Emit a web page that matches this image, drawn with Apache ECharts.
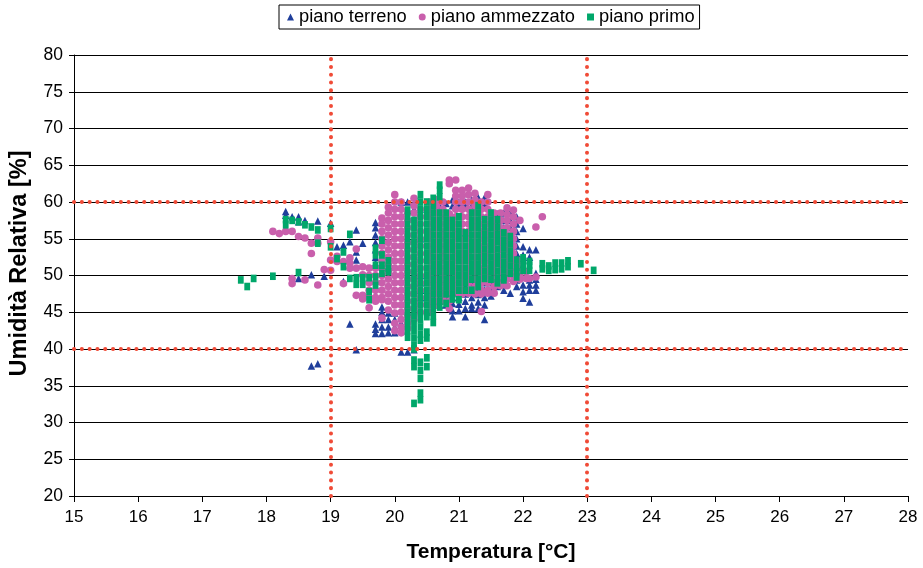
<!DOCTYPE html>
<html>
<head>
<meta charset="utf-8">
<script src="https://cdn.jsdelivr.net/npm/echarts@6/dist/echarts.min.js"></script>
<style>
html,body{margin:0;padding:0;background:#fff;}
#chart{width:923px;height:568px;}
</style>
</head>
<body>
<div id="chart"></div>
<script>
// Series names
const seriesNames = ['piano terreno', 'piano ammezzato', 'piano primo'];

// Tick labels
const xTicks = [15,16,17,18,19,20,21,22,23,24,25,26,27,28];
const yTicks = [20,25,30,35,40,45,50,55,60,65,70,75,80];

// Comfort limits (red dotted lines)
const tempLimits = [19, 23];
const rhLimits = [40, 60];

// piano terreno: [temperature, [relative humidity readings]]
const terrenoCols = [
  [18.3,[58.7,58.2]],
  [18.4,[58.0]],
  [18.5,[58.0,57.3,49.6]],
  [18.6,[57.5]],
  [18.7,[50.1,37.7]],
  [18.8,[57.4,38.0]],
  [18.9,[49.9]],
  [19.0,[57.1]],
  [19.1,[53.9]],
  [19.2,[54.1,49.2]],
  [19.3,[54.6,43.4]],
  [19.4,[56.2,53.2,52.1,39.9]],
  [19.5,[54.4]],
  [19.7,[57.2,56.5,55.5,54.5,53.5,52.5,51.7,47.3,43.4,42.7,42.1]],
  [19.8,[45.7,45.0,44.0,43.0,42.1]],
  [19.9,[44.9,44.0,43.0,42.2]],
  [20.0,[44.9,44.0,43.0,42.2]],
  [20.1,[60.0,43.5,42.5,39.6]],
  [20.2,[60.0,52.0,51.0,50.0,49.0,48.0,47.0,39.6]],
  [20.3,[59.0,51.0,50.0,49.0,48.0,39.9]],
  [20.4,[58.5,55.0,50.0,49.0,48.0,47.0]],
  [20.5,[59.0,48.0,47.0]],
  [20.6,[59.0,48.0,47.0]],
  [20.7,[59.5,48.0,47.0,46.0]],
  [20.8,[59.8,49.0,48.0,47.0,46.0]],
  [20.9,[60.3,59.5,49.0,48.0,47.0,46.2,45.2,44.4]],
  [21.0,[60.0,59.5,49.0,48.0,47.0,46.1,45.2]],
  [21.1,[60.0,59.3,49.4,48.5,47.5,46.5,45.5,44.4]],
  [21.2,[60.3,59.5,49.0,48.0,47.0,46.0,45.5]],
  [21.3,[60.6,59.5,49.4,48.4,47.4,46.4,45.5]],
  [21.4,[60.6,59.8,49.0,48.0,47.0,46.0,44.0]],
  [21.5,[58.5,57.5,49.0,48.0,47.2]],
  [21.6,[58.4,57.5,56.5,49.5,48.5]],
  [21.7,[58.5,57.5,56.5,55.5,49.0,48.0]],
  [21.8,[58.5,57.5,56.5,55.5,54.5,53.5,47.6]],
  [21.9,[58.0,57.0,56.0,55.0,54.0,53.0,52.0,51.2,49.4,48.5]],
  [22.0,[56.4,53.9,52.8,52.1,48.7,47.8,46.9]],
  [22.1,[53.5,52.5,49.4,48.7,48.0,46.4]],
  [22.2,[53.5,50.3,49.5,48.7,48.0]]
];

// piano ammezzato
const ammezzatoCols = [
  [18.1,[56.0]],
  [18.2,[55.7]],
  [18.3,[56.0]],
  [18.4,[56.0,49.6,48.9]],
  [18.5,[55.3]],
  [18.6,[55.1,49.4]],
  [18.7,[54.4,53.0]],
  [18.8,[55.1,54.4,48.7]],
  [18.9,[50.8]],
  [19.0,[54.6,52.1,50.7]],
  [19.1,[52.6,51.9]],
  [19.2,[51.9,48.9]],
  [19.3,[52.4,51.7,51.0]],
  [19.4,[53.6,51.0,47.3]],
  [19.5,[51.2,50.1,47.3,46.8]],
  [19.6,[51.0,50.0,49.0,48.0,47.0,45.6]],
  [19.7,[51.0,50.0,49.0,48.0,47.0,46.5]],
  [19.8,[57.8,57,56,55,54,53,52,51,50,49,48,47,46.7,44.2]],
  [19.9,[59.3,58.5,57.5,56.5,55.5,54.5,53.5,52.5,51.5,50.5,49.5,48.5,47.5,46.5,45.3]],
  [20.0,[61,60,59,58,57,56,55,54,53,52,51,50,49,48,47,46,44.9,43.5,42.5]],
  [20.1,[60,59,58,57,56,55,54,53,52,51,50,49,48,47,46,45,44,43,42.2]],
  [20.2,[58.5,57.5,56.5,55.5,54.5,53.5,52.5,51.5,50.5,49.5,48.5,47.5,46.5,45.5,44.5,43.5,42.8]],
  [20.3,[60.5,59.5,58.5,57.5,56.5,55.5,54.5,53.5,52.5,51.5,50.5,49.5,48.5,47.5,46.5,45.5,44.5,44.0]],
  [20.4,[59,58,57,56,55,54,53,52,51,50,49,48,47,46,45]],
  [20.55,[60,59,58,57,56,55,54,53,52,51,50,49,48,47,46,45]],
  [20.65,[60.3,59.5,58.5,57.5,56.5,55.5,54.5,53.5,52.5,51.5,50.5,49.5,48.5,47.5,46.5,46.0]],
  [20.75,[60,59,58,57,56,55,54,53,52,51,50,49,48,47,46.5]],
  [20.85,[63,62.5,58.4,57.5,56.5,55.5,54.5,53.5,52.5,51.5,50.5,49.5,48.5,47.5,46.5,45.5]],
  [20.95,[63,61.6,60.8,60,59,58,57,56,55,54,53,52,51,50,49,48,47.6]],
  [21.05,[61.6,60.8,60,59,58,57,56,55,54,53,52,51,50,49,48,47.5]],
  [21.15,[61.9,61,60,59,58,57,56,55,54,53,52,51,50,49,48,47.6]],
  [21.25,[61.2,60.3,59.5,58.5,57.5,56.5,55.5,54.5,53.5,52.5,51.5,50.5,49.5,48.5,47.5]],
  [21.35,[60,59,58,57,56,55,54,53,52,51,50,49,48,47.5,45.1]],
  [21.45,[61,60,59,58,57,56,55,54,53,52,51,50,49,48,47.6]],
  [21.55,[58.5,57.5,56.5,55.5,54.5,53.5,52.5,51.5,50.5,49.5,48.5,47.6]],
  [21.65,[58.5,57.5,56.5,55.5,54.5,53.5,52.5,51.5,50.5,49.5,48.6]],
  [21.75,[59.2,58.3,57.5,56.5,55.5,54.5,53.5,52.5,51.5,50.5,49.5,48.6]],
  [21.85,[58.9,58,57,56,55,54,53,52,51,50,49.2]],
  [21.95,[57.5,52,51,50,49.5]],
  [22.05,[50.5,49.6]],
  [22.1,[49.6]],
  [22.2,[56.6,49.8]],
  [22.3,[58.0]]
];

// piano primo
const primoCols = [
  [17.6,[49.4]],
  [17.7,[48.5]],
  [17.8,[49.6]],
  [18.1,[49.9]],
  [18.3,[57.6,56.9]],
  [18.4,[57.5]],
  [18.5,[57.3,50.4]],
  [18.6,[56.9]],
  [18.7,[56.6]],
  [18.8,[56.2,54.4]],
  [19.0,[56.4,53.9]],
  [19.1,[52.3]],
  [19.2,[53.2,51.2]],
  [19.3,[55.6,49.6]],
  [19.4,[49.7,48.8]],
  [19.5,[49.7,48.8]],
  [19.6,[49.7,47.8,46.7]],
  [19.7,[53.7,52.8,51.4,49.8,48.7]],
  [19.8,[54.8,52.8,51.4,50.3]],
  [19.9,[52.0,51.0,50.5]],
  [20.2,[58.9,58,57,56,55,54,53,52,51,50,49,48,47,46,45,44.4,43.5,42.5,41.6]],
  [20.3,[57.5,56.5,55.5,54.5,53.5,52.5,51.5,50.5,49.5,48.5,47.5,46.5,45.5,44.5,43.5,42.5,41.5,40.5,40.0,38.5,37.6,32.6]],
  [20.4,[61,60,59,58,57,56,55,54,53,52,51,50,49,48,47,46,45,44,43,42,41.2,38.2,37.1,36.0,34.0,33.1]],
  [20.5,[60,59,58,57,56,55,54,53,52,51,50,49,48,47,46,45,44.4,42.3,41.5,38.8,37.6]],
  [20.6,[60.5,59.5,58.5,57.5,56.5,55.5,54.5,53.5,52.5,51.5,50.5,49.5,48.5,47.5,46.5,45.5,44.5,43.6]],
  [20.7,[62.3,61.6,60.7,58.5,57.5,56.5,55.5,54.5,53.5,52.5,51.5,50.5,49.5,48.5,47.5,46.5,45.7]],
  [20.8,[58.5,57.5,56.5,55.5,54.5,53.5,52.5,51.5,50.5,49.5,48.5,47.5,46.2]],
  [20.9,[57.5,56.5,55.5,54.5,53.5,52.5,51.5,50.5,49.5,48.5,47.5,46.8]],
  [21.0,[58,57,56,55,54,53,52,51,50,49,48,46.7]],
  [21.1,[55.8,55,54,53,52,51,50,49,48]],
  [21.2,[58.5,57.5,56.5,55.5,54.5,53.5,52.5,51.5,50.5,49.5,48.0]],
  [21.3,[59.5,58.5,57.5,56.5,55.5,54.5,53.5,52.5,51.5,50.5,49.5,48.5]],
  [21.4,[57.6,56.6,55.6,54.6,53.6,52.6,51.6,50.6,49.6]],
  [21.5,[58.5,57.5,56.5,55.5,54.5,53.5,52.5,51.5,50.5,49.5]],
  [21.6,[57.6,56.6,55.6,54.6,53.6,52.6,51.6,50.6,49.6,49.0]],
  [21.7,[55.8,54.8,53.8,52.8,51.8,50.8,49.8,49.4]],
  [21.8,[55.3,54.3,53.3,52.3,51.3,50.3]],
  [21.9,[52.1,51.1,50.5,49.8]],
  [22.0,[52.4,51.5,50.7]],
  [22.1,[51.9,51.4,50.7]],
  [22.3,[51.6,50.9]],
  [22.4,[51.3,50.7]],
  [22.5,[51.7,50.8]],
  [22.6,[51.7,50.9]],
  [22.7,[52.0,51.2]],
  [22.9,[51.6]],
  [23.1,[50.7]]
];

function toPoints(cols){
  const out = [];
  cols.forEach(([t, hs]) => hs.forEach(h => out.push([t, h])));
  return out;
}

const colors = ['#1F3E9B', '#C95FAC', '#00A76A'];
const red = '#F04B37';
const FONT = 'Liberation Sans, Arial, sans-serif';

const chart = echarts.init(document.getElementById('chart'), null, {renderer:'canvas'});

const option = {
  animation: false,
  backgroundColor: '#fff',
  textStyle: {fontFamily: FONT, color: '#000'},
  legend: {
    data: [
      {name: seriesNames[0], icon: 'triangle'},
      {name: seriesNames[1], icon: 'circle'},
      {name: seriesNames[2], icon: 'rect'}
    ],
    left: 279, top: 5,
    orient: 'horizontal',
    borderColor: '#000', borderWidth: 1,
    padding: [3, 5, 3, 8],
    itemWidth: 7, itemHeight: 7, itemGap: 12,
    textStyle: {fontFamily: FONT, fontSize: 18.3, color: '#000', padding: [0,0,0,0]}
  },
  grid: {left: 73, right: 15, top: 55, bottom: 72, containLabel: false},
  xAxis: {
    type: 'value', min: 15, max: 28, interval: 1,
    name: 'Temperatura [°C]', nameLocation: 'middle', nameGap: 46,
    nameTextStyle: {fontFamily: FONT, fontSize: 21, fontWeight: 'bold', color: '#000'},
    axisLine: {show: true, onZero: false, lineStyle: {color: '#000', width: 1}},
    axisTick: {show: true, inside: false, length: 6, lineStyle: {color: '#000'}},
    axisLabel: {fontFamily: FONT, fontSize: 17, color: '#000', margin: 13},
    splitLine: {show: false}
  },
  yAxis: {
    type: 'value', min: 20, max: 80, interval: 5,
    name: 'Umidità Relativa [%]', nameLocation: 'middle', nameGap: 42,
    nameTextStyle: {fontFamily: FONT, fontSize: 23.5, fontWeight: 'bold', color: '#000', padding: [0, 0, 0, 24]},
    axisLine: {show: true, onZero: false, lineStyle: {color: '#000', width: 1}},
    axisTick: {show: true, inside: false, length: 5, lineStyle: {color: '#000'}},
    axisLabel: {fontFamily: FONT, fontSize: 17.5, color: '#000', margin: 11},
    splitLine: {show: true, lineStyle: {color: '#000', width: 1}}
  },
  series: [
    {
      name: seriesNames[0], type: 'scatter', symbol: 'triangle', symbolSize: 7.5,
      itemStyle: {color: colors[0], opacity: 1}, data: toPoints(terrenoCols), z: 2
    },
    {
      name: seriesNames[1], type: 'scatter', symbol: 'circle', symbolSize: 7.6,
      itemStyle: {color: colors[1], opacity: 1}, data: toPoints(ammezzatoCols), z: 3
    },
    {
      name: seriesNames[2], type: 'scatter', symbol: 'rect', symbolSize: [5.8, 7.6],
      itemStyle: {color: colors[2], opacity: 1}, data: toPoints(primoCols), z: 4
    },
    {
      name: 'limiti', type: 'scatter', data: [], z: 10, silent: true,
      markLine: {
        silent: true, symbol: 'none', animation: false,
        label: {show: false},
        lineStyle: {color: red, width: 4, type: [0.1, 7.7], cap: 'round'},
        emphasis: {disabled: true},
        data: [
          {xAxis: tempLimits[0]}, {xAxis: tempLimits[1]},
          {yAxis: rhLimits[0]}, {yAxis: rhLimits[1]}
        ]
      }
    }
  ]
};
chart.setOption(option);
</script>
</body>
</html>
